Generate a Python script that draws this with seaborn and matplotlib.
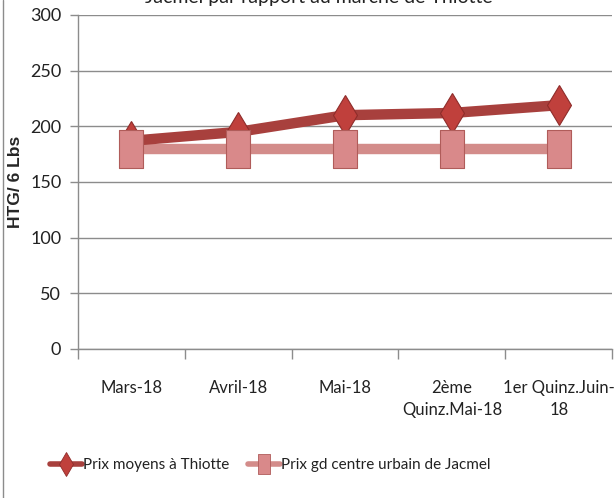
import numpy as np
import pandas as pd
import seaborn as sns
import matplotlib
matplotlib.use("Agg")
import matplotlib.pyplot as plt
from matplotlib.path import Path
from matplotlib.lines import Line2D

categories = ["Mars-18", "Avril-18", "Mai-18", "2ème\nQuinz.Mai-18", "1er Quinz.Juin-\n18"]
thiotte = [187, 195, 210, 212, 219]
jacmel = [180, 180, 180, 180, 180]
series_names = ["Prix moyens à Thiotte", "Prix gd centre urbain de Jacmel"]
title = "Jacmel par rapport au marché de Thiotte"

sns.set_theme(style="white")
plt.rcParams['font.family'] = ['Lato', 'DejaVu Sans']

df = pd.DataFrame({"x": np.arange(len(categories)), "thiotte": thiotte, "jacmel": jacmel})

fig = plt.figure(figsize=(6.14, 4.98), dpi=100)
ax = fig.add_axes([0.127, 0.2992, 0.870, 0.6707])

rect = Path([(-0.31, -0.5), (0.31, -0.5), (0.31, 0.5), (-0.31, 0.5), (-0.31, -0.5)],
            [Path.MOVETO, Path.LINETO, Path.LINETO, Path.LINETO, Path.CLOSEPOLY])

c_thi_line = "#A8403D"
c_thi_mk = "#C0403C"
c_jac_line = "#D38C8A"
c_jac_mk = "#D9898A"
c_jac_edge = "#B05C5A"

sns.lineplot(data=df, x="x", y="jacmel", ax=ax, color=c_jac_line, lw=7.5, zorder=2,
             solid_capstyle="butt")
sns.lineplot(data=df, x="x", y="thiotte", ax=ax, color=c_thi_line, lw=7.5, zorder=3,
             marker="d", markersize=20, markerfacecolor=c_thi_mk,
             markeredgecolor="#8E2C2A", markeredgewidth=0.8, solid_capstyle="butt")
sns.lineplot(data=df, x="x", y="jacmel", ax=ax, color=c_jac_line, lw=0, zorder=4,
             marker=rect, markersize=28, markerfacecolor=c_jac_mk,
             markeredgecolor=c_jac_edge, markeredgewidth=0.8)

ax.set_xlim(-0.5, len(categories) - 0.5)
ax.set_ylim(0, 300)
ax.set_yticks(range(0, 301, 50))
ax.set_xticks(range(len(categories)))
ax.set_xticklabels(categories, fontsize=12, color="#222222", linespacing=1.5)
ax.set_xticks(np.arange(-0.5, len(categories), 1.0), minor=True)
ax.tick_params(axis="x", which="major", length=0, pad=22)
ax.tick_params(axis="x", which="minor", length=7, width=1, color="#8c8c8c", direction="out", bottom=True)
ax.tick_params(axis="y", length=6, width=1, color="#8c8c8c", direction="out", left=True,
               labelsize=13, labelcolor="#222222", pad=6)
ax.grid(axis="y", color="#8c8c8c", lw=1)
ax.set_axisbelow(True)
for s in ["top", "right"]:
    ax.spines[s].set_visible(False)
for s in ["left", "bottom"]:
    ax.spines[s].set_color("#8c8c8c")
    ax.spines[s].set_linewidth(1)
ax.set_xlabel("")
ax.set_ylabel("HTG/ 6 Lbs", fontsize=12.5, fontweight="bold",
              family=["Liberation Sans", "DejaVu Sans"], labelpad=5)

h1 = Line2D([], [], color=c_thi_line, lw=4, marker="d", markersize=12,
            markerfacecolor=c_thi_mk, markeredgecolor="#8E2C2A", markeredgewidth=0.6)
h2 = Line2D([], [], color=c_jac_line, lw=4, marker=rect, markersize=15,
            markerfacecolor=c_jac_mk, markeredgecolor=c_jac_edge, markeredgewidth=0.6)
fig.legend([h1, h2], series_names, loc="center", bbox_to_anchor=(0.44, 0.066), ncol=2,
           frameon=False, fontsize=11, handlelength=2.1, handletextpad=0.1, columnspacing=1.2,
           labelcolor="#222222")

fig.text(0.52, 1 - 3 / 498, title, ha="center", va="baseline", fontsize=14, color="#222222")

fig.add_artist(Line2D([3 / 614, 3 / 614], [0, 1], transform=fig.transFigure, color="#8c8c8c", lw=1))

fig.savefig("out.png", dpi=100)
